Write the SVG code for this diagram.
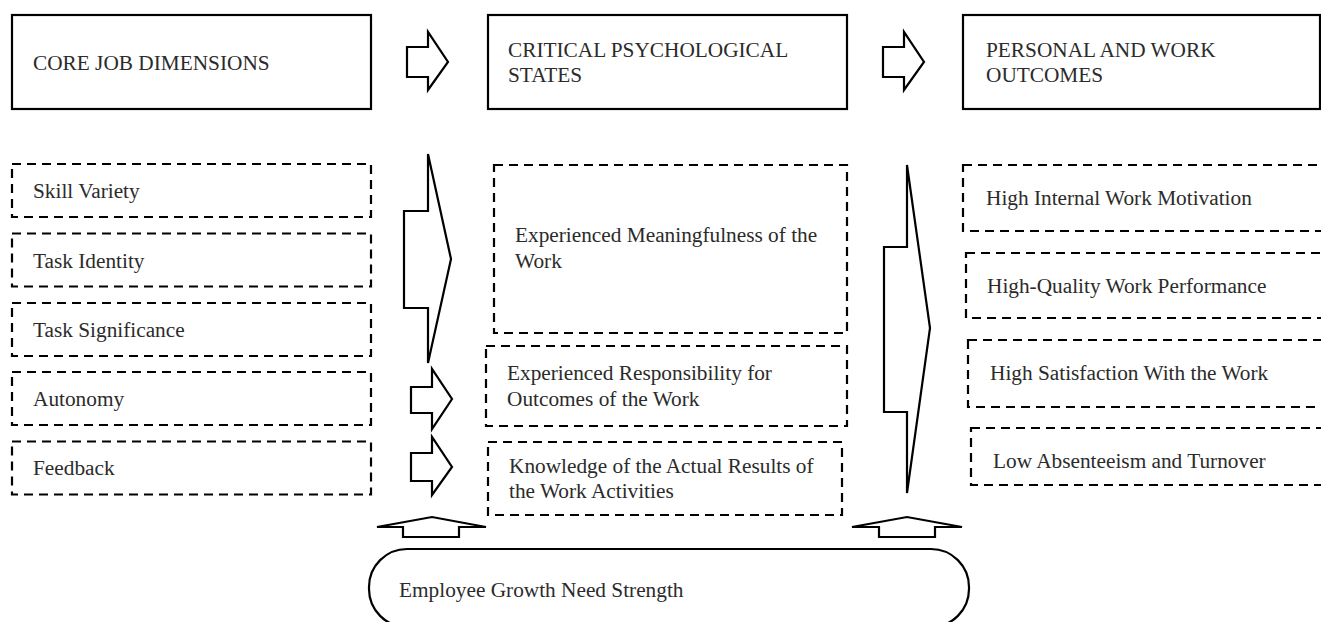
<svg xmlns="http://www.w3.org/2000/svg" width="1321" height="622" viewBox="0 0 1321 622">
<style>
.solid{fill:#fff;stroke:#000;stroke-width:2.2}
.dash{fill:#fff;stroke:#000;stroke-width:2.2;stroke-dasharray:9 6}
.arr{fill:#fff;stroke:#000;stroke-width:2.2;stroke-linejoin:miter}
text{font-family:"Liberation Serif","Times New Roman",serif;font-size:21.3px;fill:#2b2b2b}
</style>
<rect width="1321" height="622" fill="#fff"/>
<g id="connectors">
<polygon class="arr" points="407,47 428,47 428,32 448,62 428,90 428,77 407,77"/>
<polygon class="arr" points="883,47 904,47 904,32 924,62 904,90 904,77 883,77"/>
<polygon class="arr" points="404,211 428,211 428,154 451,259 428,363 428,308 404,308"/>
<polygon class="arr" points="411,387 432,387 432,369 452,399 432,429 432,413 411,413"/>
<polygon class="arr" points="411,453 432,453 432,437 452,467 432,495 432,481 411,481"/>
<polygon class="arr" points="884,247 907,247 907,165 930,328 907,493 907,412 884,412"/>
<polygon class="arr" points="403,537 403,527 377,527 432,517 486,527 459,527 459,537"/>
<polygon class="arr" points="879,537 879,527 852,527 907,517 962,527 935,527 935,537"/>
</g>
<g id="core-job-dimensions">
<rect class="solid" x="12" y="15" width="359" height="94"/>
<text x="33" y="70">CORE JOB DIMENSIONS</text>
</g>
<g id="critical-psychological-states">
<rect class="solid" x="488" y="15" width="359" height="94"/>
<text x="508" y="57">CRITICAL PSYCHOLOGICAL</text>
<text x="508" y="81.5">STATES</text>
</g>
<g id="personal-work-outcomes">
<rect class="solid" x="963" y="15" width="357" height="94"/>
<text x="986" y="57">PERSONAL AND WORK</text>
<text x="986" y="81.5">OUTCOMES</text>
</g>
<g id="skill-variety">
<rect class="dash" x="12" y="164" width="359" height="53"/>
<text x="33" y="198">Skill Variety</text>
</g>
<g id="task-identity">
<rect class="dash" x="12" y="233.5" width="359" height="53"/>
<text x="33" y="267.5">Task Identity</text>
</g>
<g id="task-significance">
<rect class="dash" x="12" y="303" width="359" height="53"/>
<text x="33" y="337">Task Significance</text>
</g>
<g id="autonomy">
<rect class="dash" x="12" y="372" width="359" height="53"/>
<text x="33" y="406">Autonomy</text>
</g>
<g id="feedback">
<rect class="dash" x="12" y="441.5" width="359" height="53"/>
<text x="33" y="475">Feedback</text>
</g>
<g id="meaningfulness">
<rect class="dash" x="494" y="165" width="353" height="168"/>
<text x="515" y="241.5">Experienced Meaningfulness of the</text>
<text x="515" y="268">Work</text>
</g>
<g id="responsibility">
<rect class="dash" x="486" y="346" width="361" height="80"/>
<text x="507" y="380">Experienced Responsibility for</text>
<text x="507" y="405.5">Outcomes of the Work</text>
</g>
<g id="knowledge">
<rect class="dash" x="488" y="442" width="354" height="73"/>
<text x="509" y="473">Knowledge of the Actual Results of</text>
<text x="509" y="498">the Work Activities</text>
</g>
<g id="motivation">
<rect class="dash" x="963" y="165" width="380" height="66"/>
<text x="986" y="205">High Internal Work Motivation</text>
</g>
<g id="performance">
<rect class="dash" x="966" y="253" width="380" height="65"/>
<text x="987" y="293">High-Quality Work Performance</text>
</g>
<g id="satisfaction">
<rect class="dash" x="968" y="340" width="380" height="67"/>
<text x="990" y="380">High Satisfaction With the Work</text>
</g>
<g id="absenteeism">
<rect class="dash" x="971" y="428" width="380" height="57"/>
<text x="993" y="468">Low Absenteeism and Turnover</text>
</g>
<g id="growth-need-strength">
<rect class="solid" x="369" y="549" width="600" height="78" rx="38" ry="38"/>
<text x="399" y="597">Employee Growth Need Strength</text>
</g>
</svg>
